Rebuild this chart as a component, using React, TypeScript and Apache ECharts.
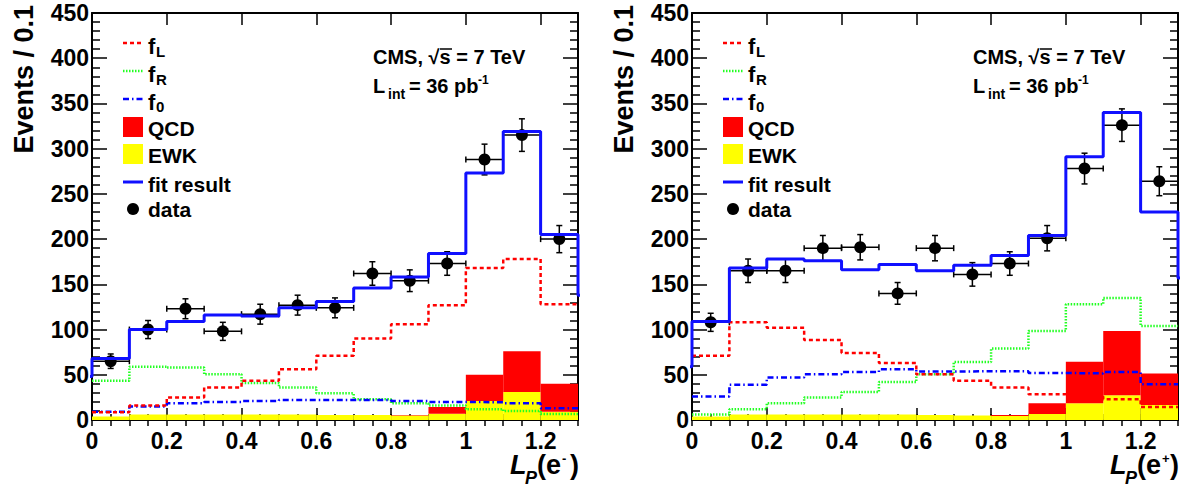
import React, { useEffect, useRef } from "react";
import * as echarts from "echarts";

// ---------- data ----------
const binLow = [0, 0.1, 0.2, 0.3, 0.4, 0.5, 0.6, 0.7, 0.8, 0.9, 1.0, 1.1, 1.2];
const binWidth = 0.1;
const xMax = 1.3;
const yMax = 450;
const xMajorStep = 0.2;
const xMinorStep = 0.05;
const yMajorStep = 50;

// left panel: L_P(e-)
const dataMinus = [65, 100, 123, 98, 117, 127, 124, 162, 154, 173, 288, 315, 200];
const errMinus = [8, 10, 11, 10, 11, 11, 11, 13, 12, 13, 17, 18, 15];
const fitMinus = [68, 100, 109, 116, 115, 124, 131, 146, 158, 184, 273, 319, 205];
const fitMinusUnder = 48;
const fitMinusOver = 138;
const fLMinus = [8.5, 16, 25, 36, 43.5, 56, 71, 90, 106, 127, 168, 178, 128];
const fRMinus = [43.5, 59, 58, 50.5, 41, 36, 29.5, 23, 18.5, 16, 12, 10, 6.5];
const f0Minus = [9, 15, 18.5, 20, 21, 22, 22, 22, 21, 20, 19.5, 18.5, 13];
const ewkMinus = [4, 6, 6, 6, 6, 6, 5.5, 5.5, 5, 7, 21, 31, 9];
const qcdMinus = [0, 0, 0, 0, 0, 0, 0, 0, 0.5, 7.5, 29, 45, 31];

// right panel: L_P(e+)
const dataPlus = [108, 165, 165, 190, 191, 140, 190, 161, 173, 201, 278, 326, 264];
const errPlus = [10, 13, 13, 14, 14, 12, 14, 13, 13, 14, 17, 18, 16];
const fitPlus = [109, 168, 178, 176, 166, 172, 165, 171, 182, 204, 291, 340, 230];
const fitPlusUnder = 59;
const fitPlusOver = 157;
const fLPlus = [71, 108, 102, 88.5, 74, 63, 50.5, 43.5, 36, 28.5, 26, 23, 14.5];
const fRPlus = [6, 12, 18.5, 25, 31, 42, 50.5, 64, 79, 98.5, 128, 135, 104];
const f0Plus = [26, 39, 47, 50.5, 53, 56, 53.5, 54, 54, 52, 51.5, 53, 39.5];
const ewkPlus = [4, 6, 6, 6, 6, 6, 5.5, 5, 4.5, 6.5, 18.5, 27.5, 16.5];
const qcdPlus = [0, 0, 0, 0, 0, 0, 0, 0, 1, 12, 46, 71, 35];

const legendLabels = ["QCD", "EWK", "fit result", "data"];
const yTitle = "Events / 0.1";
const cmsText = "CMS, \u221As = 7 TeV";

// ---------- styles ----------
const FONT = '"Liberation Sans", Arial, Helvetica, sans-serif';
const RED = "#ff0000";
const GREEN = "#22ff22";
const BLUE = "#0000ff";
const FITBLUE = "#1010ff";
const YELLOW = "#ffff00";

const fLStyle = { color: RED, width: 2.5, type: [4, 3] as number[] };
const fRStyle = { color: GREEN, width: 2.5, type: [1.5, 1.5] as number[] };
const f0Style = { color: BLUE, width: 2.5, type: [6, 3, 1.5, 3] as number[] };

function stepPoints(values: number[], under?: number, over?: number) {
  const pts: number[][] = [];
  if (under !== undefined) pts.push([binLow[0] - binWidth, under]);
  values.forEach((v, i) => pts.push([binLow[i], v]));
  const end = binLow[binLow.length - 1] + binWidth;
  if (over !== undefined) {
    pts.push([end, over]);
    pts.push([end + binWidth, over]);
  } else {
    pts.push([end, values[values.length - 1]]);
  }
  return pts;
}

function rectRender(fill: string) {
  return (params: any, api: any) => {
    const p0 = api.coord([api.value(0), api.value(3)]);
    const p1 = api.coord([api.value(1), api.value(2)]);
    return {
      type: "rect",
      shape: { x: p0[0], y: p0[1], width: p1[0] - p0[0], height: p1[1] - p0[1] },
      style: { fill },
    };
  };
}

function errRender(params: any, api: any) {
  const x = api.value(0);
  const y = api.value(1);
  const e = api.value(2);
  const half = binWidth / 2;
  const pl = api.coord([x - half, y]);
  const pr = api.coord([x + half, y]);
  const pt = api.coord([x, y + e]);
  const pb = api.coord([x, y - e]);
  const cap = 3;
  const st = { stroke: "#000", lineWidth: 1.5 };
  return {
    type: "group",
    children: [
      { type: "line", shape: { x1: pl[0], y1: pl[1], x2: pr[0], y2: pr[1] }, style: st },
      { type: "line", shape: { x1: pl[0], y1: pl[1] - cap, x2: pl[0], y2: pl[1] + cap }, style: st },
      { type: "line", shape: { x1: pr[0], y1: pr[1] - cap, x2: pr[0], y2: pr[1] + cap }, style: st },
      { type: "line", shape: { x1: pt[0], y1: pt[1], x2: pb[0], y2: pb[1] }, style: st },
      { type: "line", shape: { x1: pt[0] - cap, y1: pt[1], x2: pt[0] + cap, y2: pt[1] }, style: st },
      { type: "line", shape: { x1: pb[0] - cap, y1: pb[1], x2: pb[0] + cap, y2: pb[1] }, style: st },
    ],
  };
}

const labelFont = { fontFamily: FONT, fontWeight: "bold" as const, fontSize: 23, color: "#000" };

function xAxesFor(gridIndex: number) {
  const base = {
    type: "value" as const,
    gridIndex,
    min: 0,
    max: xMax,
    splitLine: { show: false },
    axisLine: { show: true, onZero: false, lineStyle: { color: "#000", width: 2 } },
  };
  return [
    {
      ...base,
      position: "bottom",
      interval: xMajorStep,
      axisTick: { inside: true, length: 12, lineStyle: { color: "#000", width: 1.5 } },
      axisLabel: { ...labelFont, margin: 9, showMaxLabel: false },
    },
    {
      ...base,
      position: "bottom",
      interval: xMinorStep,
      axisLine: { show: false },
      axisTick: { inside: true, length: 6, lineStyle: { color: "#000", width: 1.5 } },
      axisLabel: { show: false },
    },
    {
      ...base,
      position: "top",
      interval: xMajorStep,
      axisTick: { inside: true, length: 12, lineStyle: { color: "#000", width: 1.5 } },
      axisLabel: { show: false },
    },
    {
      ...base,
      position: "top",
      interval: xMinorStep,
      axisLine: { show: false },
      axisTick: { inside: true, length: 6, lineStyle: { color: "#000", width: 1.5 } },
      axisLabel: { show: false },
    },
  ];
}

function yAxesFor(gridIndex: number) {
  const base = {
    type: "value" as const,
    gridIndex,
    min: 0,
    max: yMax,
    interval: yMajorStep,
    splitLine: { show: false },
    axisLine: { show: true, onZero: false, lineStyle: { color: "#000", width: 2 } },
    axisTick: { inside: true, length: 15, lineStyle: { color: "#000", width: 1.5 } },
    minorTick: { show: true, splitNumber: 5, length: 8, lineStyle: { color: "#000", width: 1.5 } },
  };
  return [
    { ...base, position: "left", axisLabel: { ...labelFont, margin: 3 } },
    { ...base, position: "right", axisLabel: { show: false } },
  ];
}

function panelSeries(
  g: number,
  data: number[],
  err: number[],
  fit: number[],
  fitUnder: number,
  fitOver: number,
  fL: number[],
  fR: number[],
  f0: number[],
  ewk: number[],
  qcd: number[]
) {
  const xi = g * 4;
  const yi = g * 2;
  const ax = { xAxisIndex: xi, yAxisIndex: yi };
  const centers = binLow.map((b) => b + binWidth / 2);
  const line = (d: number[][], ls: any) => ({
    type: "line",
    ...ax,
    step: "end",
    symbol: "none",
    silent: true,
    clip: true,
    data: d,
    lineStyle: ls,
  });
  return [
    {
      type: "custom",
      ...ax,
      silent: true,
      renderItem: rectRender(YELLOW),
      encode: { x: [0, 1], y: [2, 3] },
      data: binLow.map((b, i) => [b, b + binWidth, 0, ewk[i]]),
    },
    {
      type: "custom",
      ...ax,
      silent: true,
      renderItem: rectRender(RED),
      encode: { x: [0, 1], y: [2, 3] },
      data: binLow.map((b, i) => [b, b + binWidth, ewk[i], ewk[i] + qcd[i]]),
    },
    line(stepPoints(fR), fRStyle),
    line(stepPoints(f0), f0Style),
    line(stepPoints(fL), fLStyle),
    line(stepPoints(fit, fitUnder, fitOver), { color: FITBLUE, width: 3 }),
    {
      type: "custom",
      ...ax,
      silent: true,
      renderItem: errRender,
      encode: { x: 0, y: 1 },
      data: centers.map((c, i) => [c, data[i], err[i]]),
    },
    {
      type: "scatter",
      ...ax,
      silent: true,
      symbol: "circle",
      symbolSize: 12,
      itemStyle: { color: "#000", opacity: 1 },
      data: centers.map((c, i) => [c, data[i]]),
    },
  ];
}

function txt(x: number, y: number, text: string, size: number, extra: any = {}) {
  return {
    type: "text",
    x,
    y,
    silent: true,
    ...extra,
    style: {
      text,
      fontFamily: FONT,
      fontWeight: "bold",
      fontSize: size,
      fill: "#000",
      align: "left",
      verticalAlign: "middle",
      ...(extra.style || {}),
    },
  };
}

function panelGraphics(dx: number, sign: string) {
  const L = 123 + dx;
  const R = 143 + dx;
  const T = 148 + dx;
  const els: any[] = [];
  // y axis title
  els.push(
    txt(24 + dx, 5, yTitle, 27, { rotation: Math.PI / 2, style: { align: "right" } })
  );
  // legend
  els.push({ type: "line", silent: true, shape: { x1: L, y1: 43, x2: R, y2: 43 }, style: { stroke: RED, lineWidth: 2.5, lineDash: [4, 3] } });
  els.push(txt(T, 46, "f", 22));
  els.push(txt(T + 8, 51, "L", 15));
  els.push({ type: "line", silent: true, shape: { x1: L, y1: 71, x2: R, y2: 71 }, style: { stroke: GREEN, lineWidth: 2.5, lineDash: [1.5, 1.5] } });
  els.push(txt(T, 74, "f", 22));
  els.push(txt(T + 8, 79, "R", 15));
  els.push({ type: "line", silent: true, shape: { x1: L, y1: 99, x2: R, y2: 99 }, style: { stroke: BLUE, lineWidth: 2.5, lineDash: [6, 3, 1.5, 3] } });
  els.push(txt(T, 102, "f", 22));
  els.push(txt(T + 8, 106, "0", 15));
  els.push({ type: "rect", silent: true, shape: { x: L, y: 117, width: 20, height: 20 }, style: { fill: RED } });
  els.push(txt(T, 128, legendLabels[0], 21));
  els.push({ type: "rect", silent: true, shape: { x: L, y: 144, width: 20, height: 20 }, style: { fill: YELLOW } });
  els.push(txt(T, 155, legendLabels[1], 21));
  els.push({ type: "line", silent: true, shape: { x1: L, y1: 182, x2: R, y2: 182 }, style: { stroke: FITBLUE, lineWidth: 3 } });
  els.push(txt(T, 184, legendLabels[2], 21));
  els.push({ type: "circle", silent: true, shape: { cx: 133 + dx, cy: 209, r: 6 }, style: { fill: "#000" } });
  els.push(txt(T, 209, legendLabels[3], 21));
  // CMS label
  els.push(txt(373 + dx, 57, cmsText, 20));
  els.push({ type: "line", silent: true, shape: { x1: 440 + dx, y1: 49, x2: 452 + dx, y2: 49 }, style: { stroke: "#000", lineWidth: 1.5 } });
  els.push(txt(373 + dx, 86, "L", 20));
  els.push(txt(388 + dx, 94, "int", 14));
  els.push(txt(409 + dx, 86, "= 36 pb", 20));
  els.push(txt(478 + dx, 80, "-1", 12));
  // x axis title
  els.push(txt(510 + dx, 465, "L", 27, { style: { fontStyle: "italic" } }));
  els.push(txt(525 + dx, 478, "P", 18, { style: { fontStyle: "italic" } }));
  els.push(txt(537 + dx, 465, "(e", 27));
  els.push(txt(562 + dx, 458, sign, 13));
  els.push(txt(570 + dx, 465, ")", 27));
  return els;
}

export default function App() {
  const ref = useRef<HTMLDivElement>(null);
  useEffect(() => {
    document.body.style.margin = "0";
    if (!ref.current) return;
    const chart = echarts.init(ref.current, null, { renderer: "svg" });
    chart.setOption({
      animation: false,
      backgroundColor: "#fff",
      grid: [
        { left: 92, top: 13, width: 486, height: 407 },
        { left: 692, top: 13, width: 486, height: 407 },
      ],
      xAxis: [...xAxesFor(0), ...xAxesFor(1)],
      yAxis: [...yAxesFor(0), ...yAxesFor(1)],
      series: [
        ...panelSeries(0, dataMinus, errMinus, fitMinus, fitMinusUnder, fitMinusOver, fLMinus, fRMinus, f0Minus, ewkMinus, qcdMinus),
        ...panelSeries(1, dataPlus, errPlus, fitPlus, fitPlusUnder, fitPlusOver, fLPlus, fRPlus, f0Plus, ewkPlus, qcdPlus),
      ],
      graphic: [...panelGraphics(0, "-"), ...panelGraphics(600, "+")],
    });
    return () => chart.dispose();
  }, []);
  return <div ref={ref} style={{ width: 1188, height: 489 }} />;
}
